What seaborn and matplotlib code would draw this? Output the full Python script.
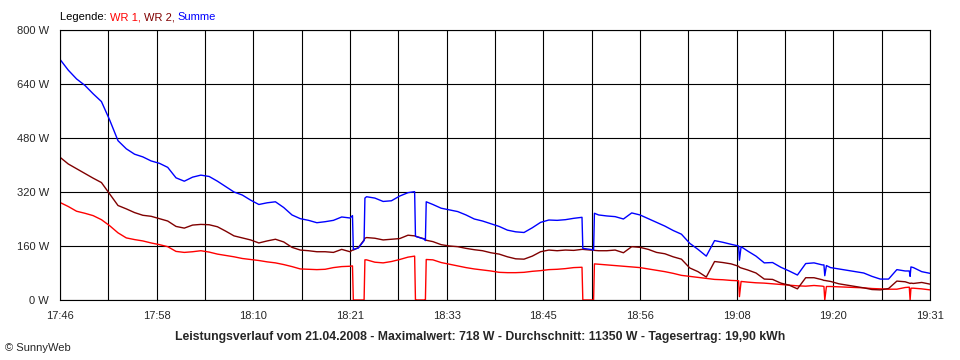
import numpy as np
import pandas as pd
import seaborn as sns
import matplotlib.pyplot as plt

# minutes after 17:46 (extra points where WR 1 drops out)
minutes = [0, 1, 2, 3, 4, 5, 6, 7, 8, 9,
           10, 11, 12, 13, 14, 15, 16, 17, 18, 19,
           20, 21, 22, 23, 24, 25, 26, 27, 28, 29,
           30, 31, 32, 33, 34, 35, 35.3, 35.4, 36, 36.7, 36.8, 37, 38, 39,
           40, 41, 42, 42.8, 42.9, 43, 44, 44.1, 44.2, 45, 46, 47, 48, 49,
           50, 51, 52, 53, 54, 55, 56, 57, 58, 59,
           60, 61, 62, 63, 63.1, 64, 64.4, 64.5, 65, 66, 67, 68, 69,
           70, 71, 72, 73, 74, 75, 76, 77, 78, 79,
           80, 81, 81.9, 82, 82.2, 83, 84, 85, 86, 87, 88, 89,
           90, 91, 92, 92.2, 92.3, 92.5, 93, 94, 95, 96, 97, 98, 99,
           100, 101, 102, 102.5, 102.6, 102.7, 103, 104, 105]

wr1 = [289, 277, 263, 257, 250, 238, 220, 199, 184, 179,
       175, 169, 164, 158, 144, 141, 143, 146, 142, 136,
       132, 128, 123, 120, 117, 113, 110, 105, 99, 92,
       91, 90, 91, 96, 99, 100, 101, 0, 0, 0, 119, 119, 112, 110,
       114, 120, 127, 130, 0, 0, 0, 0, 120, 119, 111, 106, 101, 96,
       92, 89, 86, 82, 81, 81, 82, 85, 87, 90,
       91, 93, 96, 97, 0, 0, 0, 107, 106, 104, 102, 100, 98,
       96, 92, 88, 84, 79, 73, 70, 67, 64, 61,
       60, 58, 57, 10, 55, 53, 51, 50, 48, 46, 44, 42,
       41, 43, 41, 40, 0, 40, 40, 39, 38, 37, 36, 34, 33,
       32, 32, 37, 38, 0, 35, 35, 33, 30]

wr2 = [423, 403, 389, 375, 361, 348, 314, 280, 270, 259,
       251, 248, 241, 234, 218, 213, 222, 224, 223, 217,
       204, 190, 184, 178, 169, 175, 180, 172, 156, 148,
       146, 143, 143, 141, 150, 143, 148, 148, 155, 178, 183, 185, 183, 178,
       180, 182, 192, 190, 189, 188, 181, 179, 177, 173, 164, 160, 158, 153,
       149, 146, 140, 136, 128, 122, 121, 130, 143, 148,
       146, 148, 147, 150, 150, 148, 148, 147, 146, 146, 148, 140, 158,
       156, 150, 141, 137, 128, 121, 95, 84, 68, 114,
       111, 107, 100, 97, 95, 89, 80, 62, 61, 50, 44, 33,
       66, 66, 60, 58, 58, 57, 55, 48, 44, 40, 36, 31, 30,
       34, 56, 54, 50, 49, 50, 49, 52, 47]

summe = [713, 681, 655, 636, 611, 588, 533, 472, 448, 432,
         424, 412, 405, 393, 362, 352, 364, 370, 366, 352,
         336, 320, 311, 296, 283, 288, 291, 274, 252, 241,
         236, 229, 232, 236, 246, 243, 250, 150, 154, 176, 302, 306, 302, 292,
         294, 308, 318, 321, 190, 188, 180, 176, 291, 283, 272, 267, 262, 252,
         240, 234, 226, 218, 207, 202, 200, 214, 230, 237,
         236, 238, 242, 245, 153, 150, 148, 257, 252, 249, 247, 240, 258,
         252, 241, 230, 219, 206, 195, 168, 150, 130, 176,
         171, 165, 160, 118, 158, 145, 130, 110, 111, 97, 86, 74,
         108, 110, 104, 104, 72, 102, 96, 92, 88, 84, 80, 70, 62,
         62, 90, 86, 86, 70, 98, 96, 84, 79]

time_labels = ['17:46', '', '17:58', '', '18:10', '', '18:21', '', '18:33', '',
               '18:45', '', '18:56', '', '19:08', '', '19:20', '', '19:31']
y_ticks = [0, 160, 320, 480, 640, 800]

colors = {'WR 1': '#ff0000', 'WR 2': '#800000', 'Summe': '#0000ff'}

sns.set_style("white")
plt.rcParams['font.family'] = ['Liberation Sans', 'DejaVu Sans']
plt.rcParams['font.size'] = 8

n = len(minutes)
df = pd.DataFrame({'Minute': minutes * 3,
                   'Leistung': wr1 + wr2 + summe,
                   'Serie': ['WR 1'] * n + ['WR 2'] * n + ['Summe'] * n})

fig = plt.figure(figsize=(9.6, 3.6), dpi=100)
ax = fig.add_axes([60 / 960, 60 / 360, 870 / 960, 270 / 360])
sns.lineplot(data=df, x='Minute', y='Leistung', hue='Serie', palette=colors,
             hue_order=['WR 1', 'WR 2', 'Summe'], estimator=None, sort=False,
             linewidth=1, legend=False, ax=ax)

ax.set_xlim(0, 105)
ax.set_ylim(0, 800)
ax.set_xticks(np.linspace(0, 105, 19))
ax.set_xticklabels(time_labels)
ax.set_yticks(y_ticks)
ax.set_yticklabels([f'{v} W' for v in y_ticks])
ax.set_xlabel('')
ax.set_ylabel('')
ax.grid(True, color='black', linewidth=0.8)
ax.tick_params(length=4, width=0.8, color='black', labelsize=8, pad=4)
for s in ax.spines.values():
    s.set_color('black')
    s.set_linewidth(0.8)

# legend line at the top, coloured words
t = fig.text(60 / 960, 1 - 22 / 360, 'Legende: ', color='black', va='bottom', ha='left', fontsize=8)
for word, key in [('WR 1, ', 'WR 1'), ('WR 2, ', 'WR 2'), ('Summe', 'Summe')]:
    t = ax.annotate(word, xy=(1, 0), xycoords=t, va='bottom', ha='left',
                    color=colors[key], fontsize=8)

fig.text(0.5, 1 - 337 / 360,
         'Leistungsverlauf vom 21.04.2008 - Maximalwert: 718 W - Durchschnitt: 11350 W - Tagesertrag: 19,90 kWh',
         ha='center', va='center', fontweight='bold', fontsize=8.8)
fig.text(5 / 960, 1 - 348 / 360, '© SunnyWeb', ha='left', va='center', fontsize=8)

fig.savefig('out.png', dpi=100)
